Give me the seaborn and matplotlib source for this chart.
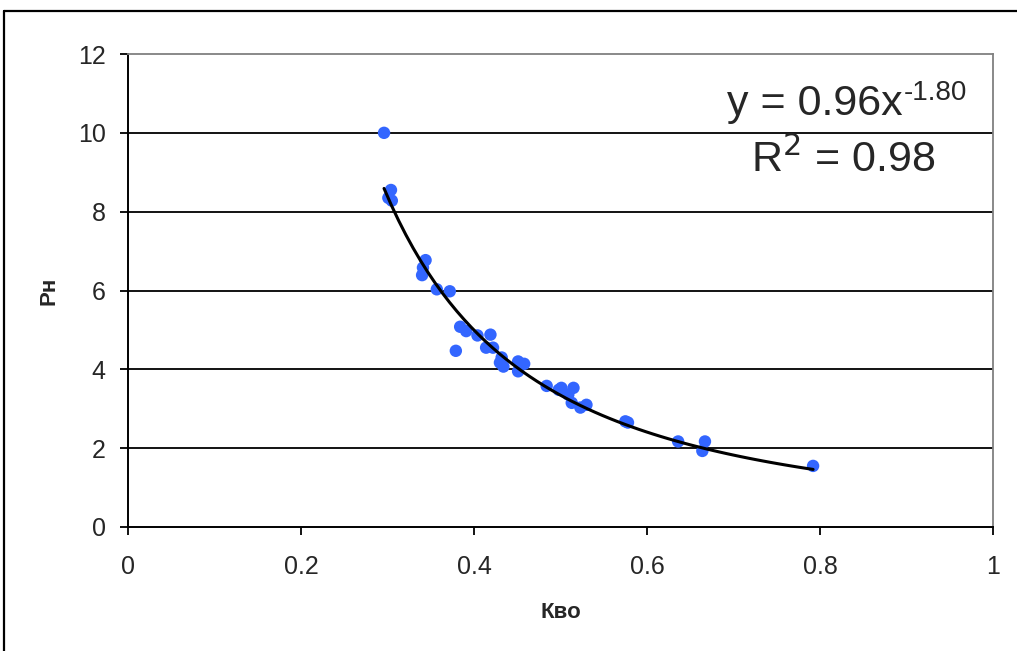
import numpy as np
import pandas as pd
import matplotlib
matplotlib.use("Agg")
import matplotlib.pyplot as plt
import seaborn as sns
from matplotlib.lines import Line2D

# ---- data ----
kvo = [0.296, 0.304, 0.301, 0.305, 0.344, 0.341, 0.340, 0.357, 0.372, 0.384,
       0.391, 0.379, 0.404, 0.419, 0.414, 0.422, 0.432, 0.430, 0.434, 0.451,
       0.458, 0.451, 0.484, 0.498, 0.501, 0.515, 0.509, 0.513, 0.523, 0.530,
       0.575, 0.578, 0.636, 0.667, 0.664, 0.792]
pn = [10.0, 8.55, 8.35, 8.28, 6.77, 6.58, 6.39, 6.03, 5.98, 5.08,
      4.97, 4.47, 4.86, 4.88, 4.55, 4.55, 4.30, 4.17, 4.07, 4.20,
      4.14, 3.95, 3.58, 3.48, 3.53, 3.53, 3.36, 3.15, 3.03, 3.10,
      2.68, 2.65, 2.17, 2.17, 1.93, 1.55]
trend_coef = 0.96
trend_exp = -1.80
r2_value = 0.98
x_ticks = [0, 0.2, 0.4, 0.6, 0.8, 1]
x_tick_labels = ["0", "0.2", "0.4", "0.6", "0.8", "1"]
y_ticks = [0, 2, 4, 6, 8, 10, 12]
x_label = "Кво"
y_label = "Рн"

df = pd.DataFrame({"Кво": kvo, "Рн": pn})
xs = np.linspace(min(kvo), max(kvo), 60)
trend = pd.DataFrame({"x": xs, "y": trend_coef * xs ** trend_exp})

sns.set_style("white")
plt.rcParams["font.family"] = ["Liberation Sans", "DejaVu Sans"]

fig = plt.figure(figsize=(10.17, 6.51), dpi=100)
ax = fig.add_axes([128 / 1017, 1 - 527 / 651, (993 - 128) / 1017, (527 - 54) / 651])

for yv in y_ticks[1:-1]:
    ax.axhline(yv, color="black", lw=1.3, zorder=1)

sns.scatterplot(data=df, x="Кво", y="Рн", ax=ax, color="#3366FF", s=80,
                edgecolor="none", zorder=3, legend=False)
sns.lineplot(data=trend, x="x", y="y", ax=ax, color="black", lw=2.2,
             zorder=4, legend=False)

ax.set_xlim(0, 1)
ax.set_ylim(0, 12)
ax.set_xticks(x_ticks)
ax.set_xticklabels(x_tick_labels)
ax.set_yticks(y_ticks)
ax.tick_params(axis="both", labelsize=18, direction="out", length=6,
               width=1.3, color="black", left=True, bottom=True)
ax.tick_params(axis="y", pad=10)
ax.tick_params(axis="x", pad=14)
ax.set_xlabel(x_label, fontsize=16, fontweight="bold", labelpad=17)
ax.set_ylabel(y_label, fontsize=16, fontweight="bold", labelpad=13)

for side in ["left", "bottom"]:
    ax.spines[side].set_color("black")
    ax.spines[side].set_linewidth(1.4)
for side in ["top", "right"]:
    ax.spines[side].set_color("#808080")
    ax.spines[side].set_linewidth(1.3)
    ax.spines[side].set_visible(True)

eq = ax.text(727, 651 - 115, f"y = {trend_coef:.2f}x", fontsize=31,
             ha="left", va="baseline", zorder=5, transform=None)
ax.annotate(f"{trend_exp:.2f}", xy=(1, 1), xycoords=eq, xytext=(1, 3),
            textcoords="offset points", fontsize=20, ha="left", va="top",
            zorder=5)
ax.text(843, 651 - 160, f"R$^{{2}}$ = {r2_value:.2f}", fontsize=31,
        ha="center", va="center", zorder=5, transform=None)

# outer chart-area frame (top and left edges visible)
fig.add_artist(Line2D([4 / 1017, 1.0], [1 - 11 / 651, 1 - 11 / 651],
                      color="black", lw=1.6, transform=fig.transFigure))
fig.add_artist(Line2D([4 / 1017, 4 / 1017], [0, 1 - 11 / 651],
                      color="black", lw=1.6, transform=fig.transFigure))

fig.savefig("out.png", dpi=100, facecolor="white")
